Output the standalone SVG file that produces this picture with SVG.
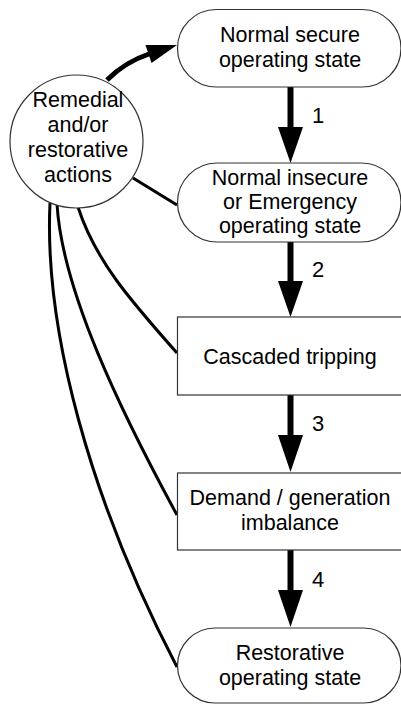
<svg xmlns="http://www.w3.org/2000/svg" width="401" height="704" viewBox="0 0 401 704">
<style>
.node{fill:#fff;stroke:#333;stroke-width:1.2}
.t{font-family:"Liberation Sans",Arial,sans-serif;font-size:21.5px;fill:#000;text-anchor:middle}
.lbl{font-family:"Liberation Sans",Arial,sans-serif;font-size:22px;fill:#000}
.ln{fill:none;stroke:#000;stroke-width:3}
.shaft{fill:none;stroke:#000;stroke-width:6}
.head{fill:#000;stroke:none}
</style>
<rect width="401" height="704" fill="#fff"/>
<g id="connectors">
<path class="ln" d="M133,178 L177,205"/>
<path class="ln" d="M78,207 C95,260 130,300 177,353"/>
<path class="ln" d="M57,204 C62,290 120,410 177,515"/>
<path class="ln" d="M50,203 C44,330 90,500 177,667"/>
<path fill="none" stroke="#000" stroke-width="5" d="M107,80 Q125,62 149,54"/>
<polygon class="head" points="177,45 145.5,45 151.5,63"/>
<line class="shaft" x1="290.5" y1="85" x2="290.5" y2="129"/>
<polygon class="head" points="278,127 303,127 290.5,163"/>
<line class="shaft" x1="290.5" y1="241" x2="290.5" y2="283"/>
<polygon class="head" points="278,281 303,281 290.5,317"/>
<line class="shaft" x1="290.5" y1="394" x2="290.5" y2="437"/>
<polygon class="head" points="278,435 303,435 290.5,472"/>
<line class="shaft" x1="290.5" y1="549" x2="290.5" y2="592"/>
<polygon class="head" points="278,590 303,590 290.5,627"/>
<text class="lbl" x="312" y="123">1</text>
<text class="lbl" x="312" y="277">2</text>
<text class="lbl" x="312" y="431">3</text>
<text class="lbl" x="312" y="587">4</text>
</g>
<g id="actions">
<circle class="node" cx="76.5" cy="141.5" r="66.5"/>
<text class="t" x="78" y="107">Remedial</text>
<text class="t" x="78" y="132">and/or</text>
<text class="t" x="78" y="157">restorative</text>
<text class="t" x="78" y="182">actions</text>
</g>
<g id="n1">
<rect class="node" x="177.5" y="9.5" width="223.5" height="77.5" rx="38.75"/>
<text class="t" x="290" y="42">Normal secure</text>
<text class="t" x="290" y="67">operating state</text>
</g>
<g id="n2">
<rect class="node" x="177.5" y="163" width="223.5" height="79" rx="39.5"/>
<text class="t" x="290" y="185">Normal insecure</text>
<text class="t" x="290" y="209">or Emergency</text>
<text class="t" x="290" y="233">operating state</text>
</g>
<g id="n3">
<rect class="node" x="177.5" y="317" width="230" height="78"/>
<text class="t" x="290" y="364">Cascaded tripping</text>
</g>
<g id="n4">
<rect class="node" x="177.5" y="473" width="230" height="77"/>
<text class="t" x="290" y="505">Demand / generation</text>
<text class="t" x="290" y="530">imbalance</text>
</g>
<g id="n5">
<rect class="node" x="177.5" y="628" width="223.5" height="75" rx="37.5"/>
<text class="t" x="290" y="660">Restorative</text>
<text class="t" x="290" y="685">operating state</text>
</g>
</svg>
